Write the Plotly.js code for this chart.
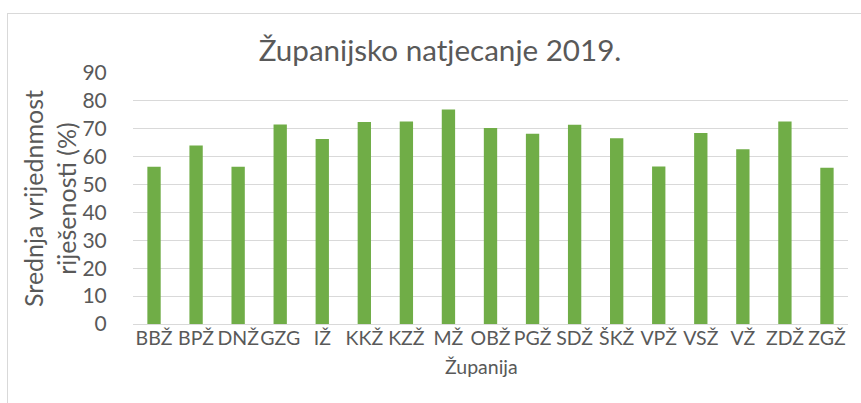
<!DOCTYPE html>
<html>
<head>
<meta charset="utf-8">
<script src="https://cdn.plot.ly/plotly-3.0.1.min.js"></script>
<style>
  html, body { margin: 0; padding: 0; background: #fff; overflow: hidden; }
  #chart { width: 861px; height: 403px; position: relative; }
  #frame { position: absolute; left: 7px; top: 13px; width: 1000px; height: 600px;
           border-left: 1px solid #D9D9D9; border-top: 1px solid #D9D9D9; pointer-events: none; }
</style>
</head>
<body>
<div id="chart"></div>
<div id="frame"></div>
<script>
const categories = ["BBŽ","BPŽ","DNŽ","GZG","IŽ","KKŽ","KZŽ","MŽ","OBŽ","PGŽ","SDŽ","ŠKŽ","VPŽ","VSŽ","VŽ","ZDŽ","ZGŽ"];
const values = [56.4, 64.0, 56.4, 71.5, 66.3, 72.4, 72.6, 76.9, 70.3, 68.2, 71.4, 66.6, 56.5, 68.5, 62.7, 72.6, 56.0];
const yTicks = [0,10,20,30,40,50,60,70,80,90];
const chartTitle = "Županijsko natjecanje 2019.";
const xTitle = "Županija";
const yTitle = "Srednja vrijednmost<br>riješenosti (%)";

const FONT = "Lato, 'Open Sans', sans-serif";
const GRAY = "#595959";

const trace = {
  type: "bar",
  x: categories,
  y: values,
  marker: { color: "#70AD47" },
  hoverinfo: "x+y"
};

const layout = {
  width: 861,
  height: 403,
  margin: { l: 133, r: 13, t: 73, b: 79 },
  paper_bgcolor: "#fff",
  plot_bgcolor: "#fff",
  bargap: 0.683,
  showlegend: false,
  font: { family: FONT, color: GRAY, size: 20 },
  title: {
    text: chartTitle,
    font: { family: FONT, size: 29.6, color: GRAY },
    xref: "container", x: 440/861, xanchor: "center",
    yref: "container", y: 1 - 51/403, yanchor: "middle"
  },
  xaxis: {
    type: "category",
    tickangle: 0,
    tickfont: { family: FONT, size: 19.5, color: GRAY },
    showgrid: false,
    showline: true,
    linecolor: "#D9D9D9",
    linewidth: 1,
    ticks: "",
    ticklabelstandoff: -3,
    automargin: false
  },
  yaxis: {
    range: [0, 90],
    tickvals: yTicks,
    ticktext: yTicks.map(String),
    tickfont: { family: FONT, size: 21, color: GRAY },
    showgrid: true,
    gridcolor: "#D9D9D9",
    gridwidth: 1,
    zeroline: false,
    showline: false,
    ticks: "outside",
    ticklen: 21,
    tickcolor: "rgba(0,0,0,0)",
    automargin: false
  },
  annotations: [
    {
      text: xTitle, xref: "paper", yref: "paper",
      x: (481-133)/715, y: -(367-324.3)/251.6,
      xanchor: "center", yanchor: "middle", showarrow: false,
      font: { family: FONT, size: 19.5, color: GRAY }
    },
    {
      text: yTitle, xref: "paper", yref: "paper",
      x: (49.5-133)/715, y: (324.3-198.5)/251.6, textangle: -90,
      xanchor: "center", yanchor: "middle", showarrow: false,
      font: { family: FONT, size: 25, color: GRAY }
    }
  ]
};

Plotly.newPlot("chart", [trace], layout, { displayModeBar: false, staticPlot: true });
</script>
</body>
</html>
